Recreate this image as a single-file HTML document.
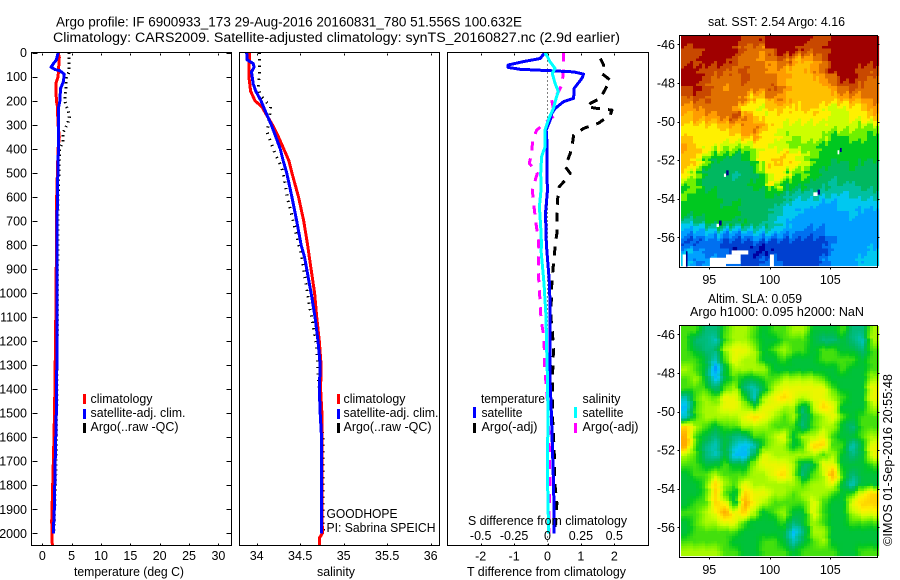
<!DOCTYPE html>
<html>
<head>
<meta charset="utf-8">
<title>Argo profile</title>
<style>
html,body{margin:0;padding:0;background:#fff;}
svg{display:block;}
text{font-family:"Liberation Sans",sans-serif;font-size:12.5px;fill:#000;}
.t{font-size:13.5px;}
</style>
</head>
<body>
<svg id="fig" xmlns="http://www.w3.org/2000/svg" width="900" height="580" viewBox="0 0 900 580">
<defs>
<clipPath id="c1"><rect x="32" y="53" width="199" height="492"/></clipPath>
<clipPath id="c2"><rect x="240" y="53" width="199" height="492"/></clipPath>
<clipPath id="c3"><rect x="448" y="53" width="200" height="492"/></clipPath>
</defs>
<rect x="0" y="0" width="900" height="580" fill="#fff"/>
<text class="t" x="56" y="26.5" textLength="466" lengthAdjust="spacingAndGlyphs">Argo profile: IF 6900933_173 29-Aug-2016 20160831_780 51.556S 100.632E</text>
<text class="t" x="53" y="42" textLength="567" lengthAdjust="spacingAndGlyphs">Climatology: CARS2009. Satellite-adjusted climatology: synTS_20160827.nc (2.9d earlier)</text>

<g id="p1" clip-path="url(#c1)"></g>
<g id="p2" clip-path="url(#c2)"></g>
<g id="p3" clip-path="url(#c3)"></g>
<g id="m1"></g>
<g id="m2"></g>

<rect x="31.5" y="52.5" width="200" height="493" fill="none" stroke="#000"/>
<rect x="239.5" y="52.5" width="200" height="493" fill="none" stroke="#000"/>
<rect x="447.5" y="52.5" width="201" height="493" fill="none" stroke="#000"/>
<rect x="679.5" y="35.5" width="198" height="232" fill="none" stroke="#000"/>
<rect x="679.5" y="325.5" width="198" height="232" fill="none" stroke="#000"/>
<g id="ticks" stroke="#000" shape-rendering="crispEdges"></g>
<g id="ticklabels"></g>

<text x="74" y="576" textLength="110" lengthAdjust="spacingAndGlyphs">temperature (deg C)</text>
<text x="317" y="576" textLength="38" lengthAdjust="spacingAndGlyphs">salinity</text>
<text x="467" y="576" textLength="159" lengthAdjust="spacingAndGlyphs">T difference from climatology</text>
<text x="468" y="525" textLength="159" lengthAdjust="spacingAndGlyphs">S difference from climatology</text>

<g>
<rect x="83" y="394" width="3" height="10" fill="#f00"/>
<rect x="83" y="409" width="3" height="10" fill="#00f"/>
<rect x="83" y="423" width="3" height="10" fill="#000"/>
<text x="90.5" y="403" textLength="62" lengthAdjust="spacingAndGlyphs">climatology</text>
<text x="90.5" y="417" textLength="95" lengthAdjust="spacingAndGlyphs">satellite-adj. clim.</text>
<text x="90.5" y="431" textLength="88" lengthAdjust="spacingAndGlyphs">Argo(..raw -QC)</text>
</g>
<g>
<rect x="337" y="394" width="3" height="10" fill="#f00"/>
<rect x="337" y="409" width="3" height="10" fill="#00f"/>
<rect x="337" y="423" width="3" height="10" fill="#000"/>
<text x="343.5" y="403" textLength="62" lengthAdjust="spacingAndGlyphs">climatology</text>
<text x="343.5" y="417" textLength="95" lengthAdjust="spacingAndGlyphs">satellite-adj. clim.</text>
<text x="343.5" y="431" textLength="88" lengthAdjust="spacingAndGlyphs">Argo(..raw -QC)</text>
</g>
<text x="326.5" y="518" textLength="71" lengthAdjust="spacingAndGlyphs">GOODHOPE</text>
<text x="326.5" y="532" textLength="109" lengthAdjust="spacingAndGlyphs">PI: Sabrina SPEICH</text>

<g>
<text x="481" y="403" textLength="64" lengthAdjust="spacingAndGlyphs">temperature</text>
<text x="582.5" y="403" textLength="38" lengthAdjust="spacingAndGlyphs">salinity</text>
<rect x="473" y="407" width="3" height="11" fill="#00f"/>
<rect x="473" y="423" width="3" height="10" fill="#000"/>
<rect x="574" y="407" width="3" height="11" fill="#0ff"/>
<rect x="574" y="423" width="3" height="10" fill="#f0f"/>
<text x="481.5" y="417" textLength="41" lengthAdjust="spacingAndGlyphs">satellite</text>
<text x="481.5" y="431" textLength="56" lengthAdjust="spacingAndGlyphs">Argo(-adj)</text>
<text x="582.5" y="417" textLength="41" lengthAdjust="spacingAndGlyphs">satellite</text>
<text x="582.5" y="431" textLength="56" lengthAdjust="spacingAndGlyphs">Argo(-adj)</text>
</g>

<text x="708" y="26" textLength="137" lengthAdjust="spacingAndGlyphs">sat. SST: 2.54 Argo: 4.16</text>
<text x="708" y="303" textLength="94" lengthAdjust="spacingAndGlyphs">Altim. SLA: 0.059</text>
<text x="690" y="316" textLength="174" lengthAdjust="spacingAndGlyphs">Argo h1000: 0.095 h2000: NaN</text>
<text transform="translate(892,546) rotate(-90)" x="0" y="0" textLength="172" lengthAdjust="spacingAndGlyphs">©IMOS 01-Sep-2016 20:55:48</text>
</svg>

<script>
// ---------- tick labels ----------
const depthTicks = [0,100,200,300,400,500,600,700,800,900,1000,1100,1200,1300,1400,1500,1600,1700,1800,1900,2000];
const tempTicks = [0,5,10,15,20,25,30];
const salTicks = [34,34.5,35,35.5,36];
const tDiffTicks = [-2,-1,0,1,2];
const sDiffTicks = [-0.5,-0.25,0,0.25,0.5];
const lonTicks = [95,100,105];
const latTicks = [-46,-48,-50,-52,-54,-56];

// ---------- temperature panel ----------
const tempClimDepth = [0,20,100,130,200,220,300,350,400,600,1000,1400,1600,1800,1950,2050];
const tempClimValue = [2.7,2.9,2.7,2.3,2.4,2.55,2.7,2.9,2.7,2.45,2.35,2.15,2.0,1.77,1.6,1.7];
const tempSatDepth = [0,30,45,60,70,75,90,120,150,200,225,400,600,1000,1400,1500,1700,1900,2000];
const tempSatValue = [2.7,2.4,1.9,1.48,2.15,3.0,3.75,3.6,3.1,3.0,2.8,2.75,2.55,2.5,2.45,2.38,2.2,2.05,1.87];
const tempArgoDepth = [0,80,100,150,200,220,240,270,295,330,370,400,600,1000,1500,1600,1800,2000];
const tempArgoValue = [4.55,4.55,4.15,4.0,3.8,4.05,4.4,4.6,4.3,3.6,3.5,2.95,2.7,2.6,2.45,2.45,2.25,2.0];

// ---------- salinity panel ----------
const salClimDepth = [0,60,100,160,200,225,260,300,350,400,450,500,600,700,800,850,1000,1100,1200,1300,1400,1500,1600,1900,2000,2020,2050];
const salClimValue = [33.92,33.91,33.91,33.93,33.98,34.06,34.115,34.18,34.25,34.31,34.37,34.405,34.48,34.54,34.585,34.605,34.665,34.69,34.72,34.74,34.735,34.75,34.75,34.75,34.755,34.72,34.72];
const salSatDepth = [0,30,45,60,80,130,160,200,250,300,350,400,450,500,600,700,800,850,1000,1100,1200,1300,1400,1500,1600,2000];
const salSatValue = [33.885,33.89,33.96,33.97,33.94,33.96,33.99,34.05,34.107,34.168,34.22,34.27,34.305,34.345,34.405,34.46,34.51,34.55,34.625,34.67,34.705,34.73,34.72,34.73,34.745,34.745];
const salArgoDepth = [0,80,100,150,175,225,260,280,330,380,420,450,480,530,600,700,800,850,1000,1200,1400,1500,1600,2000];
const salArgoValue = [34.03,34.03,34.03,34.02,34.04,34.16,34.15,34.14,34.12,34.17,34.21,34.25,34.29,34.32,34.35,34.42,34.485,34.52,34.58,34.68,34.72,34.73,34.76,34.765];

// ---------- difference panel ----------
const tDiffSatDepth = [0,24,37,51,61,69,75,80,89,107,148,190,204,232,252,280,322,363,502,571,668,779,821,960,1098,1237,1376,1515,1654,1792,1931,2000];
const tDiffSatValue = [-0.08,-0.22,-0.72,-1.18,-1.18,-0.82,0.08,0.78,1.08,1.03,0.8,0.78,0.48,0.23,0.13,0.08,-0.04,-0.02,-0.02,0,-0.06,-0.04,-0.02,0.06,0.08,0.08,0.08,0.12,0.15,0.18,0.2,0.2];
const tDiffArgoDepth = [24,51,86,114,155,190,211,225,232,239,259,294,315,343,377,419,474,502,530,558,613,668,752,807,821,877,960,1098,1168,1237,1307,1376,1515,1654,1792,1876,2000];
const tDiffArgoValue = [1.58,1.68,1.62,1.88,1.72,1.58,1.28,1.18,1.48,1.93,1.88,1.52,1.08,0.78,0.75,0.68,0.53,0.68,0.53,0.35,0.3,0.28,0.28,0.22,0.22,0.18,0.13,0.1,0.15,0.18,0.16,0.15,0.15,0.2,0.22,0.28,0.2];
const sDiffSatDepth = [0,17,37,65,86,127,162,190,232,280,322,392,433,502,571,641,724,807,821,960,1098,1237,1348,1515,1654,1792,1931,2000];
const sDiffSatValue = [-0.019,0,0.019,0.056,0.036,0.056,0.081,0.064,0.044,0.006,-0.019,-0.019,-0.044,-0.051,-0.049,-0.061,-0.051,-0.044,-0.049,-0.026,-0.011,-0.006,-0.001,0.004,0.001,0.001,0.006,0.009];
const sDiffArgoDepth = [0,44,72,107,135,176,197,232,259,287,322,363,419,460,502,571,641,710,779,821,904,960,1029,1112,1182,1237,1307,1376,1445,1515,1654,1792,1931,2000];
const sDiffArgoValue = [0.119,0.119,0.119,0.114,0.106,0.069,0.031,0.044,0.056,-0.006,-0.081,-0.111,-0.119,-0.136,-0.076,-0.114,-0.101,-0.086,-0.069,-0.064,-0.069,-0.064,-0.056,-0.049,-0.026,-0.024,-0.021,-0.011,-0.001,0.006,0.014,0.019,0.011,0.011];
const zeroLineDepth = [0,2050];
const zeroLineValue = [0,0];

// ---------- SST map values (colour level, north to south, west to east) ----------
const sstValues = [
[15,15,15,15,15,15,14,14,15,15,15,15,15,14,14,15,15,15,15,15],
[14,14,15,15,15,15,13,13,12,15,15,15,14,14,14,15,15,15,15,15],
[14,14,15,15,15,14,13,13,12,13,14,12,11,12,13,15,15,15,15,15],
[15,15,14,14,14,13,14,13,13,12,12,11,11,12,13,15,15,15,14,14],
[15,15,14,13,13,13,14,13,13,13,12,11,11,11,12,13,15,15,14,13],
[14,15,14,13,12,13,13,13,13,14,12,11,11,11,11,12,13,14,13,13],
[13,14,14,13,13,13,13,10,11,13,12,11,11,11,11,11,12,12,12,13],
[12,12,13,13,13,13,9,10,9,11,11,10,11,11,10,9,9,10,10,12],
[11,12,12,12,13,14,13,11,10,10,10,10,10,10,10,9,9,10,10,11],
[10,10,10,10,11,11,12,13,11,10,9,9,9,9,9,9,9,9,8,8],
[11,10,10,10,10,10,11,12,10,10,9,8,9,9,9,7,7,8,8,7],
[12,11,10,10,9,9,8,9,10,9,9,8,8,8,7,7,7,7,7,7],
[11,11,9,7,7,6,7,8,11,10,11,10,9,8,7,7,7,7,7,7],
[11,10,7,6,6,6,6,7,10,11,10,10,9,7,7,6,6,7,6,6],
[10,8,6,6,6,5,6,6,8,10,10,7,8,7,6,6,6,6,6,6],
[7,8,6,6,6,6,6,7,7,10,7,7,7,6,6,5,6,5,6,6],
[8,7,7,7,6,6,6,6,6,7,6,5,5,5,5,5,4,5,5,5],
[7,7,7,7,6,7,6,6,6,6,5,4,4,4,3,3,4,4,4,4],
[7,7,7,7,7,7,6,6,6,5,4,4,3,3,3,3,3,4,3,3],
[4,5,6,7,7,6,7,6,6,5,4,3,3,3,3,3,3,3,3,3],
[3,3,3,4,3,3,3,4,4,4,3,3,2,2,2,3,3,3,3,3],
[1,1,2,2,1,1,1,2,1,1,1,1,1,1,1,2,3,3,3,3],
[4,3,2,2,2,1,1,0,0,1,1,1,1,1,1,3,3,3,3,4],
[4,2,3,3,2,2,1,1,2,2,1,1,1,1,2,3,3,3,4,4]
];
// missing-data patches in SST map: lon start, lon end, lat north, lat south
const sstMissing = [
[92.8,93.07,-56.89,-57.52],[95.05,96.38,-57.06,-57.52],[96.38,97.59,-56.89,-57.38],
[96.85,98.22,-56.68,-56.89],[100.01,100.34,-56.89,-57.52],[105.6,105.74,-51.49,-51.7],
[96.21,96.38,-52.7,-52.87],[103.6,103.95,-53.67,-53.86],[95.6,95.8,-55.3,-55.47]
];
const sstDarkSpots = [
[105.8,105.94,-51.37,-51.58],[96.4,96.6,-52.53,-52.79],[103.95,104.15,-53.53,-53.79],
[95.8,96.02,-55.13,-55.39],[93.07,93.2,-56.72,-57.52],[96.93,97.3,-56.5,-56.89]
];

// ---------- SLA map values (colour level, north to south, west to east) ----------
const slaValues = [
[8,8,6,6,8,9,9,8,7,8,8,9,9,7,7,7,8,6,6,9],
[8,6,6,5,8,9,9,8,7,7,8,8,8,7,6,6,7,6,5,9],
[8,7,6,6,9,10,10,9,7,8,9,8,8,7,8,8,7,7,6,8],
[8,8,7,5,8,10,9,9,7,7,8,7,7,7,8,8,8,8,7,8],
[9,8,7,3,7,9,9,9,9,7,7,7,7,7,7,7,8,7,7,8],
[8,9,7,4,7,8,7,7,8,8,9,9,9,9,8,7,7,7,7,9],
[8,8,8,6,8,9,6,5,7,9,10,10,10,10,10,8,7,7,7,10],
[5,8,9,8,10,10,8,5,9,10,11,10,9,10,10,9,8,7,7,10],
[4,8,9,9,10,10,9,8,10,10,9,9,6,9,11,10,7,7,7,9],
[5,8,9,9,9,9,10,11,10,9,8,9,6,8,9,10,8,7,8,8],
[11,9,8,7,8,8,9,9,9,8,8,8,6,8,9,9,7,6,8,8],
[12,8,7,6,7,6,6,8,8,9,10,7,9,9,10,8,7,7,8,9],
[12,8,6,5,7,5,4,5,8,9,9,7,8,11,11,8,8,5,7,10],
[9,8,6,5,7,4,4,7,10,9,9,9,9,9,8,9,7,6,7,10],
[8,8,7,7,8,7,7,9,10,10,10,9,6,7,10,10,7,7,7,8],
[7,8,8,9,8,8,8,9,9,10,11,9,6,8,9,12,8,6,7,7],
[7,7,8,11,9,8,10,9,9,9,9,9,8,9,9,10,7,5,7,7],
[7,7,8,11,8,7,11,10,10,9,9,8,9,9,9,8,7,8,10,11],
[7,8,8,11,10,7,12,10,9,8,8,8,8,10,8,7,7,10,11,11],
[8,8,9,10,12,10,11,9,7,8,9,7,7,10,8,7,7,9,10,10],
[7,8,9,9,10,10,8,7,7,7,8,6,7,9,8,7,7,8,8,8],
[7,8,8,8,8,8,7,7,7,7,7,4,6,9,9,7,7,7,7,7],
[8,8,8,8,8,7,7,7,8,8,7,5,7,8,9,7,7,7,7,7],
[9,9,9,9,8,8,7,7,8,8,8,7,8,8,8,8,7,7,8,8]
];

const colormap = ['#0000a0','#0040d0','#0070f0','#00a0ff','#00c8f0','#00c0a0','#00b860','#00c820','#70f000','#ccff00','#fff000','#ffc000','#ff9c00','#e07000','#c84800','#a00000'];

// ---------- axis functions ----------
const NS = 'http://www.w3.org/2000/svg';
const yDepth = d => 52.7 + d * 0.2403;
const xTemp = v => 42.3 + v * 5.87;
const xSal = v => 256.7 + (v - 34) * 87;
const xTDiff = v => 547.5 + v * 33.4;
const xSDiff = v => 547.5 + v * 133.6;
const xLon = v => 709.3 + (v - 95) * 12.1;
const yLat1 = v => 44.3 + (-46 - v) * 19.3;
const yLat2 = v => 334.3 + (-46 - v) * 19.3;

function make(tag, parent) {
  const e = document.createElementNS(NS, tag);
  parent.appendChild(e);
  return e;
}

function drawLine(parentId, name, depths, values, xf, color, width, dash) {
  const g = document.getElementById(parentId);
  const line = make('polyline', g);
  
  
  line.setAttribute('points', depths.map((d, i) => xf(values[i]).toFixed(1) + ',' + yDepth(d).toFixed(1)).join(' '));
  line.setAttribute('fill', 'none');
  line.setAttribute('stroke', color);
  line.setAttribute('stroke-width', width);
  line.setAttribute('stroke-linejoin', 'round');
  line.setAttribute('shape-rendering', 'crispEdges');
  if (dash) line.setAttribute('stroke-dasharray', dash);
}

// temperature
drawLine('p1', 'temperature-argo-line', tempArgoDepth, tempArgoValue, xTemp, '#000', 3, '1.3 3.7');
drawLine('p1', 'temperature-climatology-line', tempClimDepth, tempClimValue, xTemp, '#f00', 3);
drawLine('p1', 'temperature-satellite-line', tempSatDepth, tempSatValue, xTemp, '#00f', 3);
// salinity
drawLine('p2', 'salinity-argo-line', salArgoDepth, salArgoValue, xSal, '#000', 3, '1.3 5.2');
drawLine('p2', 'salinity-climatology-line', salClimDepth, salClimValue, xSal, '#f00', 3);
drawLine('p2', 'salinity-satellite-line', salSatDepth, salSatValue, xSal, '#00f', 3);
// differences
drawLine('p3', 'zero-difference-line', zeroLineDepth, zeroLineValue, xTDiff, '#000', 1, '1 3');
drawLine('p3', 't-difference-argo-line', tDiffArgoDepth, tDiffArgoValue, xTDiff, '#000', 3, '9 8');
drawLine('p3', 's-difference-argo-line', sDiffArgoDepth, sDiffArgoValue, xSDiff, '#f0f', 3, '9 8');
drawLine('p3', 't-difference-satellite-line', tDiffSatDepth, tDiffSatValue, xTDiff, '#00f', 3);
drawLine('p3', 's-difference-satellite-line', sDiffSatDepth, sDiffSatValue, xSDiff, '#0ff', 3);

// ---------- heatmaps ----------
function hexToRgb(h) {
  return [parseInt(h.substr(1, 2), 16), parseInt(h.substr(3, 2), 16), parseInt(h.substr(5, 2), 16)];
}
const cmRgb = colormap.map(hexToRgb);
function colourFor(v) {
  const c = Math.max(0, Math.min(cmRgb.length - 1, v));
  const i = Math.min(cmRgb.length - 2, Math.floor(c));
  const f = c - i;
  const a = cmRgb[i], b = cmRgb[i + 1];
  return 'rgb(' + Math.round(a[0] + (b[0] - a[0]) * f) + ',' + Math.round(a[1] + (b[1] - a[1]) * f) + ',' + Math.round(a[2] + (b[2] - a[2]) * f) + ')';
}
function sample(grid, u, v) {
  const rows = grid.length, cols = grid[0].length;
  u = Math.max(0, Math.min(cols - 1.001, u));
  v = Math.max(0, Math.min(rows - 1.001, v));
  const i = Math.floor(u), j = Math.floor(v), fu = u - i, fv = v - j;
  return (grid[j][i] * (1 - fu) + grid[j][i + 1] * fu) * (1 - fv) + (grid[j + 1][i] * (1 - fu) + grid[j + 1][i + 1] * fu) * fv;
}
function drawHeatmap(groupId, cellName, grid, top, quantise, streak, offset) {
  const g = document.getElementById(groupId);
  const left = 681, W = 196, H = 230, cw = 3, ch = 2.5;
  const cols = grid[0].length, rows = grid.length;
  const nx = Math.ceil(W / cw), ny = Math.ceil(H / ch);
  for (let iy = 0; iy < ny; iy++) {
    for (let ix = 0; ix < nx; ix++) {
      const shift = streak * ((iy % 5) - 2) + streak * 0.9 * (((ix * 7) % 3) - 1);
      const u = ((ix + 0.5) * cw / W) * cols - 0.5 + shift;
      const v = ((iy + 0.5) * ch / H) * rows - 0.5 + streak * 1.3 * (((ix * 5) % 4) - 1.5);
      let val = sample(grid, u, v) + offset;
      if (quantise) val = Math.round(val);
      const cell = make('rect', g);
      
      
      cell.setAttribute('x', left + ix * cw);
      cell.setAttribute('y', top + iy * ch);
      cell.setAttribute('width', cw + 0.1);
      cell.setAttribute('height', ch + 0.1);
      cell.setAttribute('fill', colourFor(val));
    }
  }
}
drawHeatmap('m1', 'sst-cell', sstValues, 36, true, 0.16, 0);
drawHeatmap('m2', 'sla-cell', slaValues, 326, false, 0.04, -0.4);

function drawPatches(list, color, name) {
  const g = document.getElementById('m1');
  list.forEach(p => {
    const r = make('rect', g);
    
    
    r.setAttribute('x', xLon(p[0]));
    r.setAttribute('width', xLon(p[1]) - xLon(p[0]));
    r.setAttribute('y', yLat1(p[2]));
    r.setAttribute('height', yLat1(p[3]) - yLat1(p[2]));
    r.setAttribute('fill', color);
  });
}
drawPatches(sstDarkSpots, '#000090', 'sst-dark-spot');
drawPatches(sstMissing, '#fff', 'sst-missing-patch');

// ---------- ticks ----------
const tickG = document.getElementById('ticks');
const labG = document.getElementById('ticklabels');
function tick(x1, y1, x2, y2) {
  const t = make('line', tickG);
  
  
  t.setAttribute('x1', Math.round(x1) + 0.5);
  t.setAttribute('x2', Math.round(x2) + 0.5);
  t.setAttribute('y1', Math.round(y1) + 0.5);
  t.setAttribute('y2', Math.round(y2) + 0.5);
}
function label(x, y, str, anchor) {
  const t = make('text', labG);
  
  
  t.setAttribute('x', x);
  t.setAttribute('y', y);
  t.setAttribute('text-anchor', anchor);
  t.textContent = str;
}
depthTicks.forEach(d => {
  const y = yDepth(d);
  tick(32, y, 37, y);
  tick(226, y, 231, y);
  label(27, y + 4.5, String(d), 'end');
});
tempTicks.forEach(v => {
  const x = xTemp(v);
  tick(x, 53, x, 55);
  tick(x, 543, x, 545);
  label(x, 560, String(v), 'middle');
});
salTicks.forEach(v => {
  const x = xSal(v);
  tick(x, 53, x, 55);
  tick(x, 543, x, 545);
  label(x, 560, String(v), 'middle');
});
tDiffTicks.forEach(v => {
  const x = xTDiff(v);
  tick(x, 53, x, 55);
  tick(x, 543, x, 545);
  label(x, 560.5, String(v), 'middle');
});
sDiffTicks.forEach(v => {
  label(xSDiff(v), 540, String(v), 'middle');
});
[[35, 267, yLat1, 284], [325, 557, yLat2, 574]].forEach(cfg => {
  lonTicks.forEach(v => {
    const x = xLon(v);
    tick(x, cfg[0] - 2, x, cfg[0]);
    tick(x, cfg[1], x, cfg[1] + 2);
    label(x, cfg[3], String(v), 'middle');
  });
  latTicks.forEach(v => {
    const y = cfg[2](v);
    tick(677, y, 679, y);
    tick(877, y, 879, y);
    label(675, y + 4.5, String(v), 'end');
  });
});
</script>
</body>
</html>
